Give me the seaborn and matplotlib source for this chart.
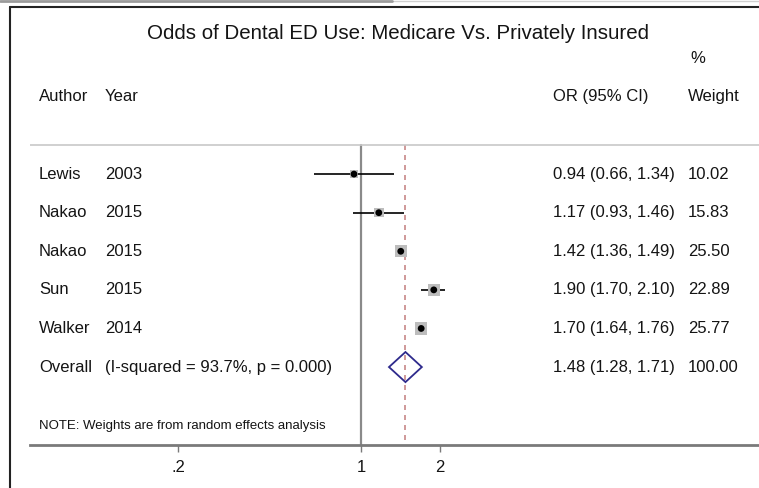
import numpy as np
import pandas as pd
import matplotlib.pyplot as plt
import seaborn as sns
from matplotlib.lines import Line2D
from matplotlib.patches import Polygon
from matplotlib.ticker import NullLocator, FixedLocator, FixedFormatter

# study data
authors = ["Lewis", "Nakao", "Nakao", "Sun", "Walker"]
years = ["2003", "2015", "2015", "2015", "2014"]
odds = [0.94, 1.17, 1.42, 1.90, 1.70]
lower = [0.66, 0.93, 1.36, 1.70, 1.64]
upper = [1.34, 1.46, 1.49, 2.10, 1.76]
weights = [10.02, 15.83, 25.50, 22.89, 25.77]

# pooled estimate
overall_or = 1.48
overall_lo = 1.28
overall_hi = 1.71
overall_weight = 100.00
overall_label = "(I-squared = 93.7%, p = 0.000)"

tick_vals = [0.2, 1, 2]
tick_labels = [".2", "1", "2"]

df = pd.DataFrame({"author": authors, "year": years, "or": odds,
                   "lo": lower, "hi": upper, "w": weights})
df["row"] = np.arange(len(df))
overall_row = len(df)

sns.set_style("white")
plt.rcParams["font.family"] = ["Liberation Sans", "DejaVu Sans"]
txt = "#141414"

W, H = 759, 488
fig = plt.figure(figsize=(W / 100, H / 100), dpi=100)
ax = fig.add_axes([30 / W, 1 - 445 / H, 729 / W, 438 / H])
ax.patch.set_alpha(0)
ax.set_xscale("log")
ax.set_xlim(np.exp((30 - 361) / 113.4), np.exp((759 - 361) / 113.4))
ax.set_ylim(7.02, -4.33)

# reference lines
sep_y = -0.75
ax.plot([1, 1], [sep_y, 7.02], color="#8a8a8a", lw=1.6, zorder=1)
ax.plot([overall_or, overall_or], [sep_y, 7.02], color="#c78888",
        lw=1.2, ls=(0, (3, 3)), zorder=1)
ax.axhline(sep_y, color="#c8c8c8", lw=1.2, zorder=1)

# confidence intervals
ax.hlines(df["row"], df["lo"], df["hi"], color="black", lw=1.2, zorder=2)

# weight boxes
side_px = 2.4 * np.sqrt(df["w"])
sns.scatterplot(data=df, x="or", y="row", marker="s", s=(side_px * 0.72) ** 2,
                color="#bdbdbd", edgecolor="none", ax=ax, zorder=3, legend=False)
sns.scatterplot(data=df, x="or", y="row", marker="o", s=24,
                color="black", edgecolor="none", ax=ax, zorder=4, legend=False)

# pooled diamond
dia = Polygon([(overall_lo, overall_row), (overall_or, overall_row - 0.39),
               (overall_hi, overall_row), (overall_or, overall_row + 0.39)],
              closed=True, fill=False, edgecolor="#2e2a8c", lw=1.3, zorder=4)
ax.add_patch(dia)

# text columns (x in figure-pixel positions)
def xf(px):
    return (px - 30) / 729

tr = ax.get_yaxis_transform()
fs = 12
ax.text(xf(39), -2, "Author", transform=tr, fontsize=fs, va="center", color=txt)
ax.text(xf(105), -2, "Year", transform=tr, fontsize=fs, va="center", color=txt)
ax.text(xf(553), -2, "OR (95% CI)", transform=tr, fontsize=fs, va="center", color=txt)
ax.text(xf(688), -2, "Weight", transform=tr, fontsize=fs, va="center", color=txt)
ax.text(xf(690), -3.0, "%", transform=tr, fontsize=fs, va="center", color=txt)

for _, r in df.iterrows():
    y = r["row"]
    ax.text(xf(39), y, r["author"], transform=tr, fontsize=fs, va="center", color=txt)
    ax.text(xf(105), y, r["year"], transform=tr, fontsize=fs, va="center", color=txt)
    ax.text(xf(553), y, f"{r['or']:.2f} ({r['lo']:.2f}, {r['hi']:.2f})",
            transform=tr, fontsize=fs, va="center", color=txt)
    ax.text(xf(688), y, f"{r['w']:.2f}", transform=tr, fontsize=fs, va="center", color=txt)

ax.text(xf(39), overall_row, "Overall", transform=tr, fontsize=fs, va="center", color=txt)
ax.text(xf(105), overall_row, overall_label, transform=tr, fontsize=fs, va="center", color=txt)
ax.text(xf(553), overall_row, f"{overall_or:.2f} ({overall_lo:.2f}, {overall_hi:.2f})",
        transform=tr, fontsize=fs, va="center", color=txt)
ax.text(xf(688), overall_row, f"{overall_weight:.2f}", transform=tr, fontsize=fs,
        va="center", color=txt)

ax.text(xf(39), 6.53, "NOTE: Weights are from random effects analysis", transform=tr,
        fontsize=9.5, va="center", color=txt)

ax.text(xf(398), -3.65, "Odds of Dental ED Use: Medicare Vs. Privately Insured",
        transform=tr, fontsize=14.8, va="center", ha="center", color=txt)

# x axis
for s in ["top", "right", "left"]:
    ax.spines[s].set_visible(False)
ax.spines["bottom"].set_color("#7a7a7a")
ax.spines["bottom"].set_linewidth(2)
ax.xaxis.set_major_locator(FixedLocator(tick_vals))
ax.xaxis.set_major_formatter(FixedFormatter(tick_labels))
ax.xaxis.set_minor_locator(NullLocator())
ax.tick_params(axis="x", direction="out", length=5, width=1, color="#7a7a7a",
               labelsize=12, labelcolor=txt, pad=6, bottom=True)
ax.set_yticks([])
ax.set_xlabel("")
ax.set_ylabel("")

# outer frame
fig.add_artist(Line2D([10 / W, 10 / W], [0, 1 - 7 / H], color="#222222", lw=1.5,
                      transform=fig.transFigure))
fig.add_artist(Line2D([10 / W, 1], [1 - 7 / H, 1 - 7 / H], color="#222222", lw=1.5,
                      transform=fig.transFigure))
fig.add_artist(Line2D([392 / W, 1], [1 - 0.5 / H, 1 - 0.5 / H], color="#cfcfcf", lw=1,
                      transform=fig.transFigure))
fig.add_artist(Line2D([0, 392 / W], [1 - 1 / H, 1 - 1 / H], color="#9a9a9a", lw=2,
                      transform=fig.transFigure))

fig.savefig("out.png", dpi=100)
